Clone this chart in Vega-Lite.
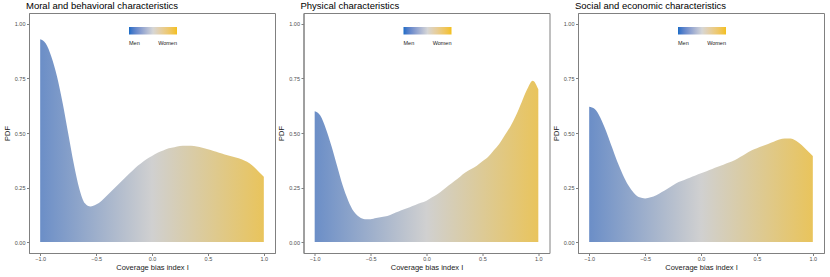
{
  "$schema": "https://vega.github.io/schema/vega-lite/v6.json",
  "padding": {"left": 2, "top": 0, "right": 0, "bottom": 0},
  "background": "white",
  "config": {
    "font": "Liberation Sans",
    "view": {"stroke": "#808080", "strokeWidth": 1},
    "axis": {"grid": false, "domainColor": "#808080", "tickColor": "#808080", "tickSize": 2.5, "labelFontSize": 5.5, "labelColor": "#4d4d4d", "titleFontSize": 7.5, "titleColor": "#1a1a1a", "titleFontWeight": "normal", "labelFont": "Liberation Sans", "titleFont": "Liberation Sans", "labelPadding": 1.5, "titlePadding": 3},
    "axisX": {"labelPadding": 1, "titlePadding": 1.5},
    "title": {"fontSize": 9.5, "font": "Liberation Sans", "fontWeight": "normal", "anchor": "start", "offset": 3, "color": "#000000", "frame": "group", "dx": -3},
    "legend": {"labelFont": "Liberation Sans"}
  },
  "datasets": {
    "moral": [
      {"x": -1.0, "pdf": 0.93}, {"x": -0.95, "pdf": 0.91}, {"x": -0.9, "pdf": 0.85}, {"x": -0.85, "pdf": 0.76},
      {"x": -0.8, "pdf": 0.64}, {"x": -0.75, "pdf": 0.5}, {"x": -0.7, "pdf": 0.36}, {"x": -0.65, "pdf": 0.245},
      {"x": -0.6, "pdf": 0.178}, {"x": -0.55, "pdf": 0.163}, {"x": -0.5, "pdf": 0.172}, {"x": -0.45, "pdf": 0.19},
      {"x": -0.4, "pdf": 0.215}, {"x": -0.35, "pdf": 0.24}, {"x": -0.3, "pdf": 0.265}, {"x": -0.25, "pdf": 0.29},
      {"x": -0.2, "pdf": 0.315}, {"x": -0.15, "pdf": 0.34}, {"x": -0.1, "pdf": 0.36}, {"x": -0.05, "pdf": 0.38},
      {"x": 0.0, "pdf": 0.395}, {"x": 0.05, "pdf": 0.41}, {"x": 0.1, "pdf": 0.42}, {"x": 0.15, "pdf": 0.43},
      {"x": 0.2, "pdf": 0.435}, {"x": 0.25, "pdf": 0.44}, {"x": 0.3, "pdf": 0.442}, {"x": 0.35, "pdf": 0.442},
      {"x": 0.4, "pdf": 0.438}, {"x": 0.45, "pdf": 0.432}, {"x": 0.5, "pdf": 0.425}, {"x": 0.55, "pdf": 0.417},
      {"x": 0.6, "pdf": 0.41}, {"x": 0.65, "pdf": 0.402}, {"x": 0.7, "pdf": 0.395}, {"x": 0.75, "pdf": 0.388},
      {"x": 0.8, "pdf": 0.38}, {"x": 0.85, "pdf": 0.368}, {"x": 0.9, "pdf": 0.35}, {"x": 0.95, "pdf": 0.325},
      {"x": 1.0, "pdf": 0.3}
    ],
    "physical": [
      {"x": -1.0, "pdf": 0.6}, {"x": -0.95, "pdf": 0.58}, {"x": -0.9, "pdf": 0.52}, {"x": -0.85, "pdf": 0.44},
      {"x": -0.8, "pdf": 0.35}, {"x": -0.75, "pdf": 0.26}, {"x": -0.7, "pdf": 0.19}, {"x": -0.65, "pdf": 0.14},
      {"x": -0.6, "pdf": 0.115}, {"x": -0.55, "pdf": 0.105}, {"x": -0.5, "pdf": 0.105}, {"x": -0.45, "pdf": 0.11},
      {"x": -0.4, "pdf": 0.115}, {"x": -0.35, "pdf": 0.12}, {"x": -0.3, "pdf": 0.13}, {"x": -0.25, "pdf": 0.14},
      {"x": -0.2, "pdf": 0.15}, {"x": -0.15, "pdf": 0.16}, {"x": -0.1, "pdf": 0.17}, {"x": -0.05, "pdf": 0.18},
      {"x": 0.0, "pdf": 0.19}, {"x": 0.05, "pdf": 0.205}, {"x": 0.1, "pdf": 0.22}, {"x": 0.15, "pdf": 0.24},
      {"x": 0.2, "pdf": 0.26}, {"x": 0.25, "pdf": 0.28}, {"x": 0.3, "pdf": 0.3}, {"x": 0.35, "pdf": 0.32},
      {"x": 0.4, "pdf": 0.335}, {"x": 0.45, "pdf": 0.35}, {"x": 0.5, "pdf": 0.37}, {"x": 0.55, "pdf": 0.39},
      {"x": 0.6, "pdf": 0.42}, {"x": 0.65, "pdf": 0.45}, {"x": 0.7, "pdf": 0.49}, {"x": 0.75, "pdf": 0.53},
      {"x": 0.8, "pdf": 0.58}, {"x": 0.85, "pdf": 0.64}, {"x": 0.9, "pdf": 0.7}, {"x": 0.95, "pdf": 0.74},
      {"x": 1.0, "pdf": 0.7}
    ],
    "social": [
      {"x": -1.0, "pdf": 0.62}, {"x": -0.95, "pdf": 0.61}, {"x": -0.9, "pdf": 0.57}, {"x": -0.85, "pdf": 0.51},
      {"x": -0.8, "pdf": 0.44}, {"x": -0.75, "pdf": 0.37}, {"x": -0.7, "pdf": 0.31}, {"x": -0.65, "pdf": 0.26},
      {"x": -0.6, "pdf": 0.225}, {"x": -0.55, "pdf": 0.205}, {"x": -0.5, "pdf": 0.2}, {"x": -0.45, "pdf": 0.205},
      {"x": -0.4, "pdf": 0.215}, {"x": -0.35, "pdf": 0.23}, {"x": -0.3, "pdf": 0.245}, {"x": -0.25, "pdf": 0.26},
      {"x": -0.2, "pdf": 0.275}, {"x": -0.15, "pdf": 0.285}, {"x": -0.1, "pdf": 0.295}, {"x": -0.05, "pdf": 0.305},
      {"x": 0.0, "pdf": 0.315}, {"x": 0.05, "pdf": 0.325}, {"x": 0.1, "pdf": 0.335}, {"x": 0.15, "pdf": 0.345},
      {"x": 0.2, "pdf": 0.355}, {"x": 0.25, "pdf": 0.365}, {"x": 0.3, "pdf": 0.375}, {"x": 0.35, "pdf": 0.39},
      {"x": 0.4, "pdf": 0.405}, {"x": 0.45, "pdf": 0.42}, {"x": 0.5, "pdf": 0.43}, {"x": 0.55, "pdf": 0.44},
      {"x": 0.6, "pdf": 0.45}, {"x": 0.65, "pdf": 0.46}, {"x": 0.7, "pdf": 0.47}, {"x": 0.75, "pdf": 0.475},
      {"x": 0.8, "pdf": 0.475}, {"x": 0.85, "pdf": 0.465}, {"x": 0.9, "pdf": 0.445}, {"x": 0.95, "pdf": 0.42},
      {"x": 1.0, "pdf": 0.395}
    ]
  },
  "spacing": 0.5,
  "resolve": {"scale": {"color": "independent"}, "legend": {"color": "independent"}},
  "hconcat": [
    {
      "title": "Moral and behavioral characteristics",
      "width": 246, "height": 240,
      "data": {"name": "moral"},
      "layer": [
        {
          "mark": {"type": "area", "interpolate": "monotone", "color": {"gradient": "linear", "x1": 0, "x2": 1, "y1": 0, "y2": 0, "stops": [{"offset": 0, "color": "#6b8ec7"}, {"offset": 0.5, "color": "#d0d0d0"}, {"offset": 1, "color": "#e9c45c"}]}},
          "encoding": {
            "x": {"field": "x", "type": "quantitative", "scale": {"domain": [-1.1, 1.1], "nice": false, "zero": false}, "axis": {"values": [-1, -0.5, 0, 0.5, 1], "format": ".1f", "title": "Coverage bias index I"}},
            "y": {"field": "pdf", "type": "quantitative", "stack": null, "scale": {"domain": [-0.05, 1.05], "nice": false}, "axis": {"values": [0, 0.25, 0.5, 0.75, 1], "format": ".2f", "title": "PDF"}}
          }
        },
        {
          "mark": {"type": "point", "opacity": 0},
          "encoding": {
            "x": {"field": "x", "type": "quantitative"},
            "y": {"field": "pdf", "type": "quantitative"},
            "color": {"field": "x", "type": "quantitative", "scale": {"domain": [-1, 0, 1], "range": ["#1a6cc6", "#d6d6d6", "#f3c01c"]}, "legend": {"orient": "none", "legendX": 100, "legendY": 14, "direction": "horizontal", "title": null, "gradientLength": 48, "gradientThickness": 7.5, "gradientStrokeWidth": 0, "values": [-1, 1], "labelExpr": "datum.value < 0 ? 'Men' : 'Women'", "labelFontSize": 5.5, "labelColor": "#1a1a1a", "labelOffset": 6, "labelAlign": "center", "labelOverlap": false, "padding": 0}}
          }
        }
      ]
    },
    {
      "title": "Physical characteristics",
      "width": 246, "height": 240,
      "data": {"name": "physical"},
      "layer": [
        {
          "mark": {"type": "area", "interpolate": "monotone", "color": {"gradient": "linear", "x1": 0, "x2": 1, "y1": 0, "y2": 0, "stops": [{"offset": 0, "color": "#6b8ec7"}, {"offset": 0.5, "color": "#d0d0d0"}, {"offset": 1, "color": "#e9c45c"}]}},
          "encoding": {
            "x": {"field": "x", "type": "quantitative", "scale": {"domain": [-1.1, 1.1], "nice": false, "zero": false}, "axis": {"values": [-1, -0.5, 0, 0.5, 1], "format": ".1f", "title": "Coverage bias index I"}},
            "y": {"field": "pdf", "type": "quantitative", "stack": null, "scale": {"domain": [-0.05, 1.05], "nice": false}, "axis": {"values": [0, 0.25, 0.5, 0.75, 1], "format": ".2f", "title": "PDF"}}
          }
        },
        {
          "mark": {"type": "point", "opacity": 0},
          "encoding": {
            "x": {"field": "x", "type": "quantitative"},
            "y": {"field": "pdf", "type": "quantitative"},
            "color": {"field": "x", "type": "quantitative", "scale": {"domain": [-1, 0, 1], "range": ["#1a6cc6", "#d6d6d6", "#f3c01c"]}, "legend": {"orient": "none", "legendX": 100, "legendY": 14, "direction": "horizontal", "title": null, "gradientLength": 48, "gradientThickness": 7.5, "gradientStrokeWidth": 0, "values": [-1, 1], "labelExpr": "datum.value < 0 ? 'Men' : 'Women'", "labelFontSize": 5.5, "labelColor": "#1a1a1a", "labelOffset": 6, "labelAlign": "center", "labelOverlap": false, "padding": 0}}
          }
        }
      ]
    },
    {
      "title": "Social and economic characteristics",
      "width": 246, "height": 240,
      "data": {"name": "social"},
      "layer": [
        {
          "mark": {"type": "area", "interpolate": "monotone", "color": {"gradient": "linear", "x1": 0, "x2": 1, "y1": 0, "y2": 0, "stops": [{"offset": 0, "color": "#6b8ec7"}, {"offset": 0.5, "color": "#d0d0d0"}, {"offset": 1, "color": "#e9c45c"}]}},
          "encoding": {
            "x": {"field": "x", "type": "quantitative", "scale": {"domain": [-1.1, 1.1], "nice": false, "zero": false}, "axis": {"values": [-1, -0.5, 0, 0.5, 1], "format": ".1f", "title": "Coverage bias index I"}},
            "y": {"field": "pdf", "type": "quantitative", "stack": null, "scale": {"domain": [-0.05, 1.05], "nice": false}, "axis": {"values": [0, 0.25, 0.5, 0.75, 1], "format": ".2f", "title": "PDF"}}
          }
        },
        {
          "mark": {"type": "point", "opacity": 0},
          "encoding": {
            "x": {"field": "x", "type": "quantitative"},
            "y": {"field": "pdf", "type": "quantitative"},
            "color": {"field": "x", "type": "quantitative", "scale": {"domain": [-1, 0, 1], "range": ["#1a6cc6", "#d6d6d6", "#f3c01c"]}, "legend": {"orient": "none", "legendX": 100, "legendY": 14, "direction": "horizontal", "title": null, "gradientLength": 48, "gradientThickness": 7.5, "gradientStrokeWidth": 0, "values": [-1, 1], "labelExpr": "datum.value < 0 ? 'Men' : 'Women'", "labelFontSize": 5.5, "labelColor": "#1a1a1a", "labelOffset": 6, "labelAlign": "center", "labelOverlap": false, "padding": 0}}
          }
        }
      ]
    }
  ]
}
